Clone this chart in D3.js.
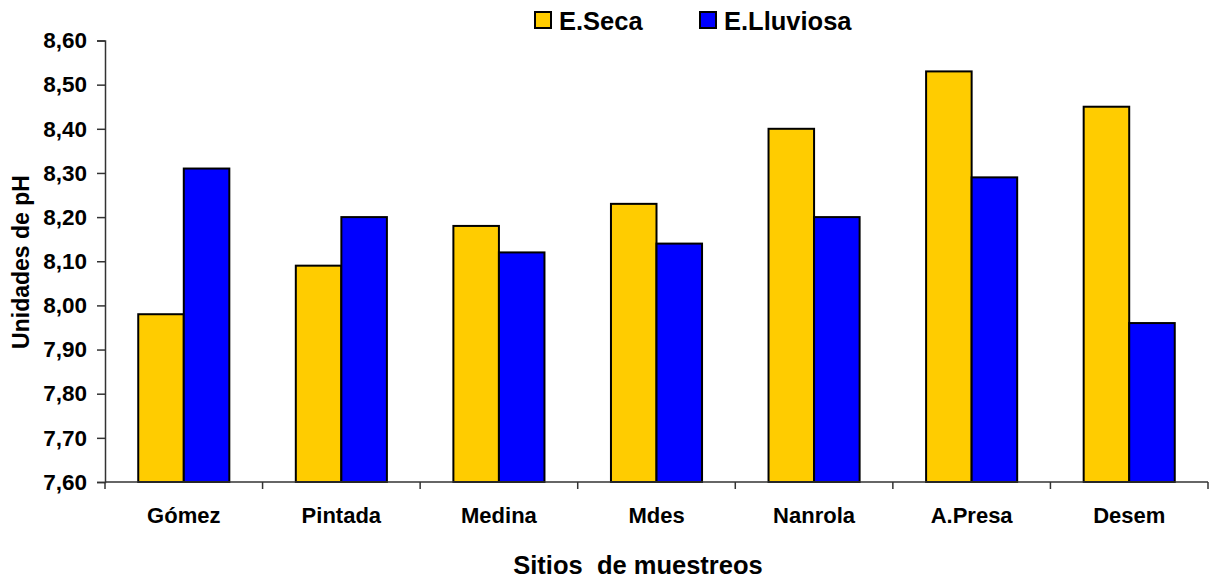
<!DOCTYPE html>
<html>
<head>
<meta charset="utf-8">
<script src="https://cdn.jsdelivr.net/npm/d3@7"></script>
<style>
  html, body { margin: 0; padding: 0; background: #fff; }
  svg { display: block; }
  text { font-family: "Liberation Sans", Arial, sans-serif; font-weight: bold; fill: #000; }
</style>
</head>
<body>
<svg id="chart" width="1212" height="579"></svg>
<script>
// Sampling sites and pH per season
const sites = ["Gómez", "Pintada", "Medina", "Mdes", "Nanrola", "A.Presa", "Desem"];
const seriesNames = ["E.Seca", "E.Lluviosa"];
const seca = [7.98, 8.09, 8.18, 8.23, 8.40, 8.53, 8.45];
const lluviosa = [8.31, 8.20, 8.12, 8.14, 8.20, 8.29, 7.96];
const yTicks = [7.6, 7.7, 7.8, 7.9, 8.0, 8.1, 8.2, 8.3, 8.4, 8.5, 8.6];
const colors = ["#FFCC00", "#0000FF"];

const svg = d3.select("#chart");
const plot = { left: 105, right: 1208, top: 40.5, bottom: 482 };

const x0 = d3.scaleBand().domain(sites).range([plot.left, plot.right]).padding(0);
const x1 = d3.scaleBand().domain(seriesNames).range([0, x0.bandwidth()])
  .paddingInner(0).paddingOuter(0.73);
const y = d3.scaleLinear().domain([7.6, 8.6]).range([plot.bottom, plot.top]);
const color = d3.scaleOrdinal().domain(seriesNames).range(colors);

const rows = sites.map((s, i) => ({ site: s, values: [
  { key: seriesNames[0], value: seca[i] },
  { key: seriesNames[1], value: lluviosa[i] }
]}));

// Bars
const groups = svg.append("g").selectAll("g").data(rows).join("g")
  .attr("transform", d => `translate(${x0(d.site)},0)`);
groups.selectAll("rect").data(d => d.values).join("rect")
  .attr("x", d => x1(d.key))
  .attr("y", d => y(d.value))
  .attr("width", x1.bandwidth())
  .attr("height", d => y(7.6) - y(d.value))
  .attr("fill", d => color(d.key))
  .attr("stroke", "#000")
  .attr("stroke-width", 2);

// Y axis
const yAxis = svg.append("g").attr("transform", `translate(${plot.left},0)`)
  .call(d3.axisLeft(y).tickValues(yTicks).tickSize(8).tickPadding(10)
    .tickFormat(d => d3.format(".2f")(d).replace(".", ",")));
yAxis.select(".domain").attr("stroke", "#333").attr("stroke-width", 1.5);
yAxis.selectAll(".tick line").attr("stroke", "#333").attr("stroke-width", 1.5);
yAxis.selectAll("text").attr("font-size", 22.5).attr("font-family", "Liberation Sans, Arial, sans-serif")
  .attr("font-weight", "bold").attr("fill", "#000");

// X axis: ticks at category boundaries
const xAxis = svg.append("g").attr("transform", `translate(0,${plot.bottom})`);
xAxis.append("line").attr("x1", plot.left).attr("x2", plot.right)
  .attr("stroke", "#333").attr("stroke-width", 1.5);
const bounds = sites.map(s => x0(s)).concat([plot.right]);
xAxis.selectAll("line.tk").data(bounds).join("line").attr("class", "tk")
  .attr("x1", d => d).attr("x2", d => d).attr("y1", 0).attr("y2", 7)
  .attr("stroke", "#333").attr("stroke-width", 1.5);
xAxis.selectAll("text").data(sites).join("text")
  .attr("x", d => x0(d) + x0.bandwidth() / 2)
  .attr("y", 41)
  .attr("text-anchor", "middle")
  .attr("font-size", 22)
  .text(d => d);

// Axis titles
svg.append("text").attr("x", 638).attr("y", 574).attr("text-anchor", "middle")
  .attr("font-size", 25.5).style("white-space", "pre").text("Sitios  de muestreos");
svg.append("text").attr("transform", "translate(29,262) rotate(-90)")
  .attr("text-anchor", "middle").attr("font-size", 23).text("Unidades de pH");

// Legend
const legendX = [535, 700];
const legend = svg.append("g").selectAll("g").data(seriesNames).join("g")
  .attr("transform", (d, i) => `translate(${legendX[i]},12)`);
legend.append("rect").attr("width", 16).attr("height", 16)
  .attr("fill", d => color(d)).attr("stroke", "#000").attr("stroke-width", 2);
legend.append("text").attr("x", 24).attr("y", 18).attr("font-size", 25.5).text(d => d);
</script>
</body>
</html>
